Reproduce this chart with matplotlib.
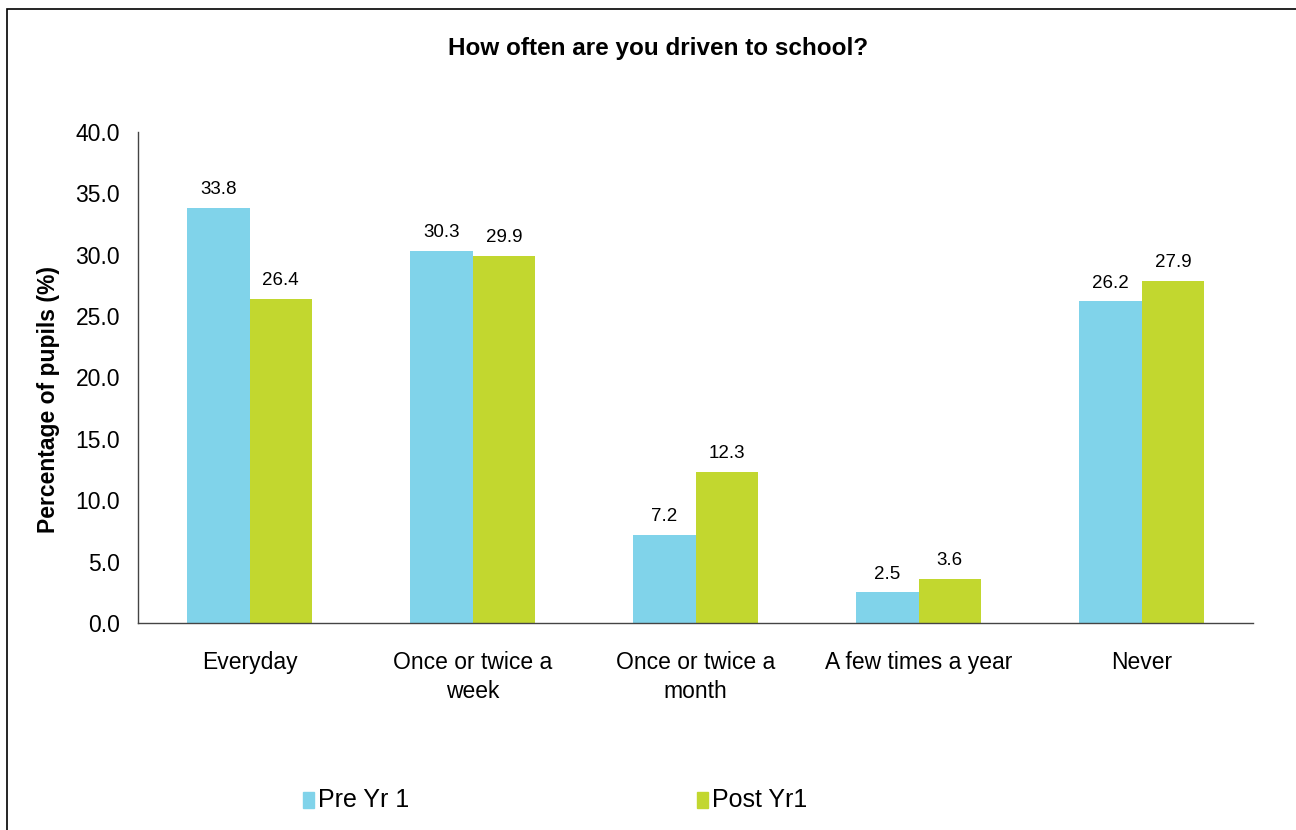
import numpy as np
import matplotlib.pyplot as plt
from matplotlib.patches import Rectangle

plt.rcParams['font.family'] = ['Liberation Sans', 'DejaVu Sans']

categories = ['Everyday', 'Once or twice a\nweek', 'Once or twice a\nmonth',
              'A few times a year', 'Never']
pre_yr1 = [33.8, 30.3, 7.2, 2.5, 26.2]
post_yr1 = [26.4, 29.9, 12.3, 3.6, 27.9]
series_names = ['Pre Yr 1', 'Post Yr1']
colors = ['#80D3EA', '#C2D72F']

fig = plt.figure(figsize=(12.96, 8.3), dpi=100)
ax = fig.add_axes([0.1065, 0.2494, 0.8605, 0.5916])

x = np.arange(len(categories))
w = 0.28
bars_pre = ax.bar(x - w / 2, pre_yr1, w, color=colors[0], label=series_names[0])
bars_post = ax.bar(x + w / 2, post_yr1, w, color=colors[1], label=series_names[1])

for bars in (bars_pre, bars_post):
    ax.bar_label(bars, fmt='%.1f', padding=7, fontsize=13.5)

ax.set_xlim(-0.5, len(categories) - 0.5)
ax.set_ylim(0, 40)
ax.set_yticks(np.arange(0, 40.1, 5))
ax.set_yticklabels([f'{v:.1f}' for v in np.arange(0, 40.1, 5)])
ax.set_xticks(x)
ax.set_xticklabels(categories, fontsize=16.5, linespacing=1.35)
ax.tick_params(axis='y', length=0, pad=13, labelsize=16.5)
ax.tick_params(axis='x', length=0, pad=20)
for side in ('top', 'right'):
    ax.spines[side].set_visible(False)
for side in ('left', 'bottom'):
    ax.spines[side].set_color('#444444')
    ax.spines[side].set_linewidth(1.0)

ax.set_ylabel('Percentage of pupils (%)', fontsize=16.5, fontweight='bold')
ax.yaxis.set_label_coords(-0.07, 0.455)
fig.text(0.508, 0.941, 'How often are you driven to school?', ha='center', va='center',
         fontsize=17.5, fontweight='bold')

# legend entries spread along the bottom
for px, name, col in zip([0.2335, 0.5375], series_names, colors):
    fig.patches.append(Rectangle((px, 0.0265), 0.0085, 0.019, transform=fig.transFigure,
                                 color=col, figure=fig))
    fig.text(px + 0.0118, 0.036, name, ha='left', va='center', fontsize=18)

# outer border
fig.patches.append(Rectangle((0.0054, -0.02), 1.1, 1.009, transform=fig.transFigure,
                             fill=False, edgecolor='black', linewidth=1.2, figure=fig))

fig.savefig('out.png', dpi=100)
